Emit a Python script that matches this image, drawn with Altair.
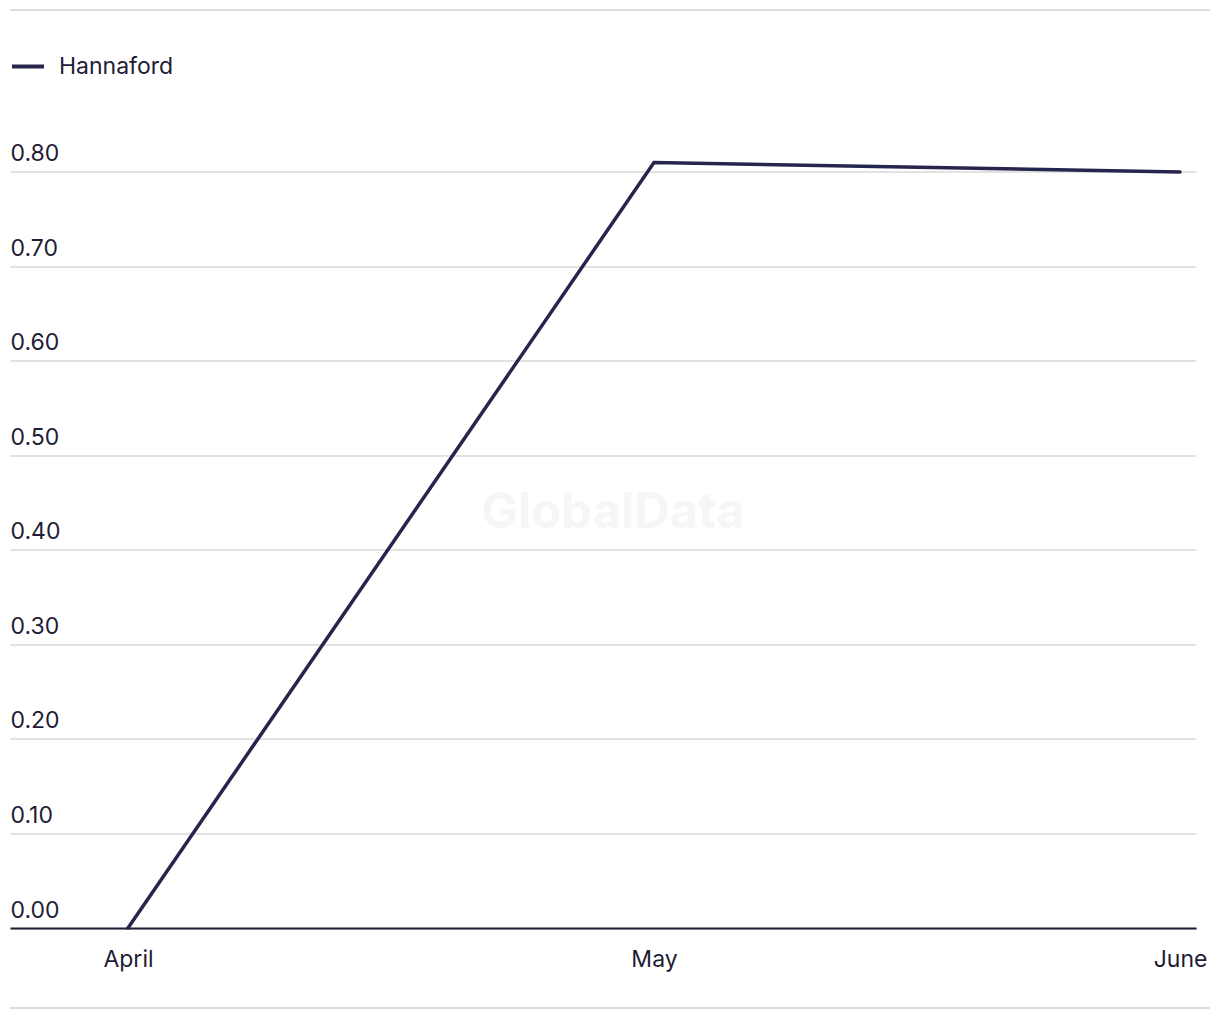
import altair as alt
import pandas as pd

# Monthly values for the single series
months = ["April", "May", "June"]
values = [0.0, 0.81, 0.80]
series = "Hannaford"

df = pd.DataFrame({"idx": list(range(len(months))), "month": months,
                   "value": values, "series": series})

FONT = "Inter"
TEXT = "#1e1d35"
LINE = "#26254d"
GRID = "#d9d9d9"
FS = 23

W, H = 1186, 765.5

x = alt.X("idx:Q",
          scale=alt.Scale(domain=[-0.2243, 2.0304], nice=False, zero=False),
          axis=alt.Axis(values=[0, 1, 2], title=None, grid=False, ticks=False,
                        labelExpr="['April','May','June'][datum.value]",
                        labelFontSize=FS, labelFont=FONT, labelColor=TEXT,
                        labelPadding=20, domainColor=TEXT, domainWidth=2,
                        labelFlush=False))
y = alt.Y("value:Q",
          scale=alt.Scale(domain=[0, 0.81], nice=False),
          axis=alt.Axis(values=[0, 0.1, 0.2, 0.3, 0.4, 0.5, 0.6, 0.7, 0.8],
                        format=".2f", title=None, ticks=False, domain=False,
                        labelAlign="left", labelBaseline="bottom",
                        labelPadding=0, labelOffset=-6,
                        labelFontSize=FS, labelFont=FONT, labelColor=TEXT,
                        gridColor=GRID, gridWidth=1.5))

line = alt.Chart(df).mark_line(strokeWidth=3.5, strokeCap="round").encode(
    x=x, y=y,
    color=alt.Color("series:N", scale=alt.Scale(range=[LINE]),
                    legend=alt.Legend(title=None, orient="none", legendX=0,
                                      legendY=-114, symbolType="stroke",
                                      symbolSize=1024, symbolStrokeWidth=4,
                                      labelFontSize=FS, labelFont=FONT,
                                      labelColor=TEXT, labelOffset=13)),
)

watermark = alt.Chart(pd.DataFrame({"t": ["GlobalData"]})).mark_text(
    fontSize=49, fontWeight="bold", font=FONT, color="#f6f6f6"
).encode(x=alt.value(W / 2 + 10), y=alt.value(350), text="t:N")

top_rule = alt.Chart(pd.DataFrame({"a": [0]})).mark_rule(color="#dddddd", strokeWidth=2).encode(
    x=alt.value(0), x2=alt.value(1200), y=alt.value(-152.5))
bottom_rule = alt.Chart(pd.DataFrame({"a": [0]})).mark_rule(color="#dddddd", strokeWidth=2).encode(
    x=alt.value(0), x2=alt.value(1200), y=alt.value(845.5))

chart = alt.layer(watermark, line, top_rule, bottom_rule).properties(
    width=W, height=H,
    autosize=alt.AutoSizeParams(type="none"),
    padding={"left": 10, "top": 162.5, "right": 24, "bottom": 92},
    background="white",
).configure_view(stroke=None)

chart.save("out.html", embed_options={"renderer": "svg", "actions": False})
